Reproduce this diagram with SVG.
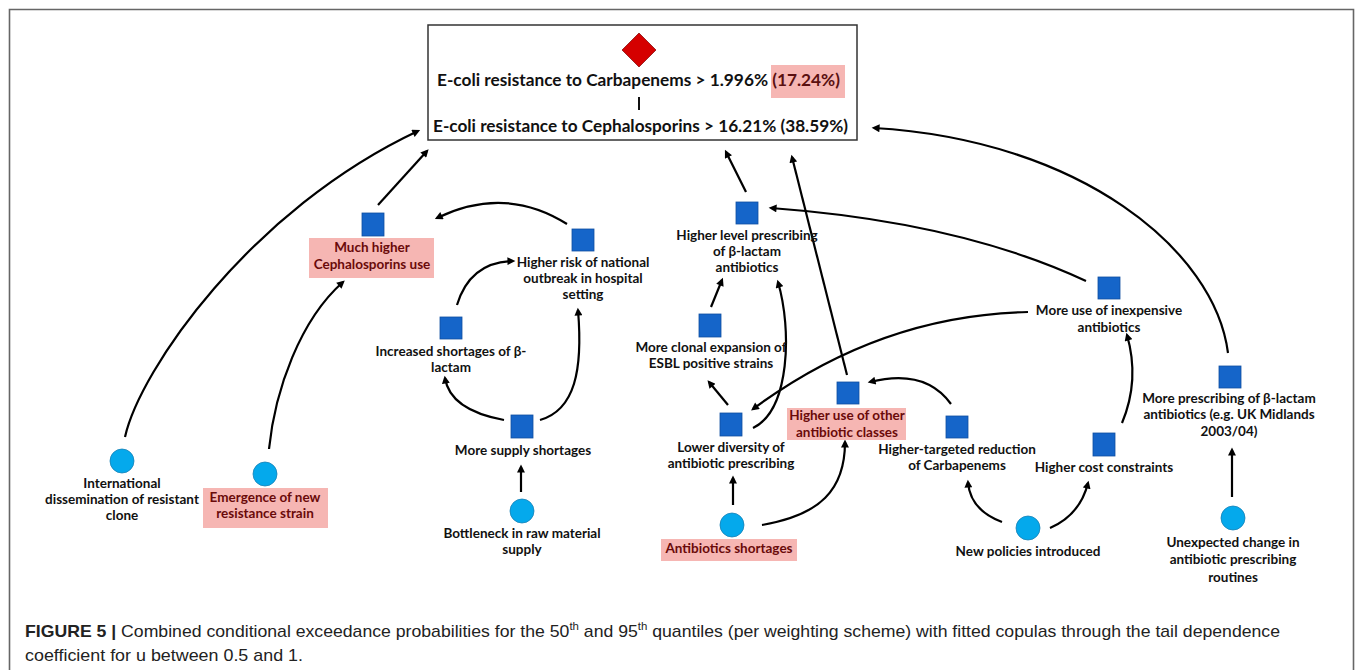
<svg xmlns="http://www.w3.org/2000/svg" width="1357" height="670" viewBox="0 0 1357 670">
<defs>
<marker id="ah" viewBox="0 0 10 10" refX="7" refY="5" markerWidth="4" markerHeight="3.6" orient="auto" markerUnits="strokeWidth">
<path d="M0,0 L10,5 L0,10 z" fill="#000"/>
</marker>
<style>
.lbl{font-family:Lato,"Open Sans",sans-serif;font-weight:bold;font-size:13.5px;fill:#111;text-anchor:middle}
.red{fill:#6a0a0a}
.pink{fill:#f6b6b3}
.sq{fill:#1565c9;stroke:#0f4fa0;stroke-width:0.8}
.ci{fill:#04a9ec;stroke:#1680b5;stroke-width:0.8}
.cn path{fill:none;stroke:#000;stroke-width:2.2;marker-end:url(#ah)}
.cap{font-family:"Liberation Sans",Arial,sans-serif;font-size:17px;fill:#222}
</style>
</defs>
<rect width="1357" height="670" fill="#fff"/>
<path d="M9.5,672 V9.5 H1353.5 V672" fill="none" stroke="#666" stroke-width="1.6"/>

<g id="target">
<rect x="428" y="25" width="429" height="115" fill="#fff" stroke="#333" stroke-width="1.5"/>
<path d="M639,33 L656,50 L639,67 L622,50 z" fill="#d50000" stroke="#8a1010" stroke-width="0.8"/>
<rect x="771" y="65" width="74" height="33" fill="#f6b6b3"/>
<text x="437" y="86" font-family="Lato,'Open Sans',sans-serif" font-weight="bold" font-size="17.5" fill="#111" textLength="403" lengthAdjust="spacingAndGlyphs">E-coli resistance to Carbapenems &gt; 1.996% <tspan fill="#5a1010">(17.24%)</tspan></text>
<line x1="639" y1="97" x2="639" y2="110" stroke="#111" stroke-width="2"/>
<text x="433" y="132" font-family="Lato,'Open Sans',sans-serif" font-weight="bold" font-size="17.5" fill="#111" textLength="415" lengthAdjust="spacingAndGlyphs">E-coli resistance to Cephalosporins &gt; 16.21% (38.59%)</text>
</g>

<g class="cn" id="connectors">
<path d="M125,437 C140,370 250,210 418,131"/>
<path d="M269,449 C275,390 300,320 343,282"/>
<path d="M378,205 L427,151"/>
<path d="M567,224 Q505,185 437,218"/>
<path d="M457,305 Q470,262 513,261"/>
<path d="M504,420 Q450,410 445,378"/>
<path d="M540,420 C575,410 583,370 578,310"/>
<path d="M521,492 L521,467"/>
<path d="M746,192 L726,152"/>
<path d="M847,375 L792,157"/>
<path d="M1086,281 Q960,222 771,208"/>
<path d="M1228,353 C1215,250 1080,140 874,128"/>
<path d="M711,307 L722,280"/>
<path d="M728,405 L709,382"/>
<path d="M753,428 C790,410 792,330 778,282"/>
<path d="M1028,312 Q880,315 753,409"/>
<path d="M951,404 Q925,368 870,382"/>
<path d="M733,505 L733,478"/>
<path d="M762,525 C820,515 845,490 845,442"/>
<path d="M1122,423 Q1140,380 1127,335"/>
<path d="M1002,522 Q970,510 968,482"/>
<path d="M1050,528 Q1080,515 1088,483"/>
<path d="M1232,497 L1232,450"/>
</g>

<g id="much-higher-cephalosporins">
<rect class="sq" x="362" y="213" width="22" height="23"/>
<rect class="pink" x="309" y="238" width="125" height="40"/>
<text class="lbl red" x="372" y="252">Much higher</text>
<text class="lbl red" x="372" y="269">Cephalosporins use</text>
</g>
<g id="international-dissemination">
<circle class="ci" cx="122" cy="461" r="12"/>
<text class="lbl" x="122" y="488">International</text>
<text class="lbl" x="122" y="504">dissemination of resistant</text>
<text class="lbl" x="122" y="520">clone</text>
</g>
<g id="emergence-new-strain">
<circle class="ci" cx="265" cy="474" r="12"/>
<rect class="pink" x="203" y="488" width="125" height="40"/>
<text class="lbl red" x="265" y="502">Emergence of new</text>
<text class="lbl red" x="265" y="518">resistance strain</text>
</g>
<g id="higher-risk-outbreak">
<rect class="sq" x="572" y="229" width="22" height="22"/>
<text class="lbl" x="583" y="267">Higher risk of national</text>
<text class="lbl" x="583" y="283">outbreak in hospital</text>
<text class="lbl" x="583" y="299">setting</text>
</g>
<g id="increased-shortages">
<rect class="sq" x="440" y="317" width="22" height="22"/>
<text class="lbl" x="451" y="356">Increased shortages of β-</text>
<text class="lbl" x="451" y="372">lactam</text>
</g>
<g id="more-supply-shortages">
<rect class="sq" x="511" y="415" width="22" height="23"/>
<text class="lbl" x="523" y="455">More supply shortages</text>
</g>
<g id="bottleneck">
<circle class="ci" cx="522" cy="511" r="12"/>
<text class="lbl" x="522" y="538">Bottleneck in raw material</text>
<text class="lbl" x="522" y="554">supply</text>
</g>
<g id="higher-level-prescribing">
<rect class="sq" x="736" y="202" width="22" height="22"/>
<text class="lbl" x="747" y="240">Higher level prescribing</text>
<text class="lbl" x="747" y="256">of β-lactam</text>
<text class="lbl" x="747" y="272">antibiotics</text>
</g>
<g id="more-clonal-expansion">
<rect class="sq" x="699" y="314" width="22" height="23"/>
<text class="lbl" x="711" y="352">More clonal expansion of</text>
<text class="lbl" x="711" y="368">ESBL positive strains</text>
</g>
<g id="lower-diversity">
<rect class="sq" x="720" y="413" width="22" height="23"/>
<text class="lbl" x="731" y="452">Lower diversity of</text>
<text class="lbl" x="731" y="468">antibiotic prescribing</text>
</g>
<g id="higher-use-other-classes">
<rect class="sq" x="837" y="382" width="22" height="22"/>
<rect class="pink" x="787" y="408" width="119" height="32"/>
<text class="lbl red" x="847" y="420">Higher use of other</text>
<text class="lbl red" x="847" y="437">antibiotic classes</text>
</g>
<g id="higher-targeted-reduction">
<rect class="sq" x="946" y="416" width="22" height="22"/>
<text class="lbl" x="957" y="454">Higher-targeted reduction</text>
<text class="lbl" x="957" y="470">of Carbapenems</text>
</g>
<g id="antibiotics-shortages">
<circle class="ci" cx="732" cy="525" r="12"/>
<rect class="pink" x="661" y="539" width="136" height="22"/>
<text class="lbl red" x="729" y="553">Antibiotics shortages</text>
</g>
<g id="more-use-inexpensive">
<rect class="sq" x="1098" y="277" width="22" height="22"/>
<text class="lbl" x="1109" y="315">More use of inexpensive</text>
<text class="lbl" x="1109" y="332">antibiotics</text>
</g>
<g id="higher-cost-constraints">
<rect class="sq" x="1093" y="433" width="22" height="23"/>
<text class="lbl" x="1104" y="472">Higher cost constraints</text>
</g>
<g id="new-policies">
<circle class="ci" cx="1028" cy="528" r="12"/>
<text class="lbl" x="1028" y="556">New policies introduced</text>
</g>
<g id="more-prescribing-beta-lactam">
<rect class="sq" x="1219" y="366" width="22" height="22"/>
<text class="lbl" x="1229" y="403">More prescribing of β-lactam</text>
<text class="lbl" x="1229" y="419">antibiotics (e.g. UK Midlands</text>
<text class="lbl" x="1229" y="436">2003/04)</text>
</g>
<g id="unexpected-change">
<circle class="ci" cx="1233" cy="518" r="12"/>
<text class="lbl" x="1233" y="547">Unexpected change in</text>
<text class="lbl" x="1233" y="564">antibiotic prescribing</text>
<text class="lbl" x="1233" y="582">routines</text>
</g>

<g id="caption">
<text class="cap" x="25" y="637" textLength="1255" lengthAdjust="spacingAndGlyphs"><tspan font-weight="bold">FIGURE 5 |</tspan> Combined conditional exceedance probabilities for the 50<tspan font-size="11" dy="-7">th</tspan><tspan dy="7"> and 95</tspan><tspan font-size="11" dy="-7">th</tspan><tspan dy="7"> quantiles (per weighting scheme) with fitted copulas through the tail dependence</tspan></text>
<text class="cap" x="25" y="661" textLength="278" lengthAdjust="spacingAndGlyphs">coefficient for u between 0.5 and 1.</text>
</g>
</svg>
